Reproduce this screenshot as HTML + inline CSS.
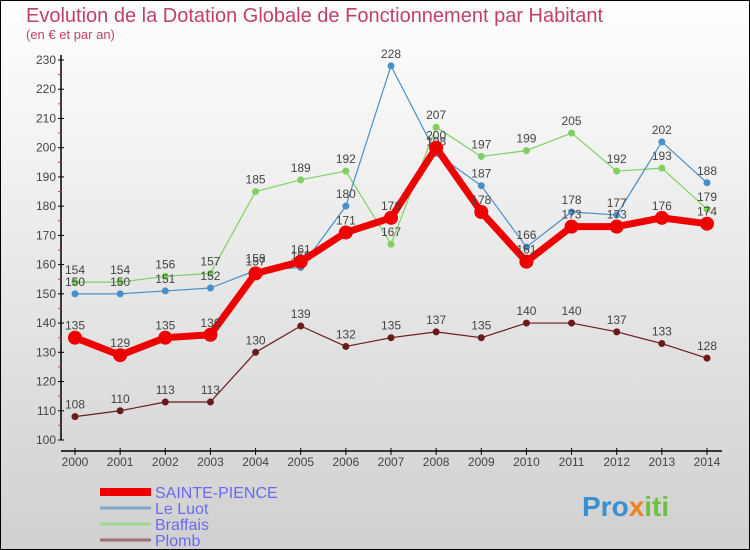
<!DOCTYPE html>
<html><head><meta charset="utf-8"><style>
html,body{margin:0;padding:0}
body{width:750px;height:550px;overflow:hidden;font-family:"Liberation Sans",sans-serif}
svg{display:block}
</style></head><body>
<svg id="chart" width="750" height="550" xmlns="http://www.w3.org/2000/svg">
<defs><linearGradient id="bg" x1="0" y1="0" x2="0" y2="1"><stop offset="0" stop-color="#ffffff"/><stop offset="1" stop-color="#d0d0d0"/></linearGradient></defs>
<rect x="0.5" y="0.5" width="749" height="549" fill="url(#bg)" stroke="#000"/>
<text x="26" y="22" font-size="20" fill="#c0406a">Evolution de la Dotation Globale de Fonctionnement par Habitant</text>
<text x="26" y="39" font-size="13" fill="#c0406a">(en € et par an)</text>
<g id="axes"></g>
<g id="series"></g>
<g id="legend"></g>
<text x="582" y="516" font-size="28" font-weight="bold" fill="#3a8fd0">Pro<tspan fill="#f08020">x</tspan><tspan fill="#70c040">iti</tspan></text>
</svg>
<script>
const years=["2000","2001","2002","2003","2004","2005","2006","2007","2008","2009","2010","2011","2012","2013","2014"];
const yTicks=[100,110,120,130,140,150,160,170,180,190,200,210,220,230];
const sainte=[135,129,135,136,157,161,171,176,200,178,161,173,173,176,174];
const luot=[150,150,151,152,158,159,180,228,198,187,166,178,177,202,188];
const braffais=[154,154,156,157,185,189,192,167,207,197,199,205,192,193,179];
const plomb=[108,110,113,113,130,139,132,135,137,135,140,140,137,133,128];
const NS="http://www.w3.org/2000/svg";
const X=i=>75+i*(707-75)/(years.length-1);
const Y=v=>440-(v-100)*(380/130);
function mk(t,a,p){const e=document.createElementNS(NS,t);for(const k in a)e.setAttribute(k,a[k]);p.appendChild(e);return e;}
const ax=document.getElementById('axes');
const yl=mk('line',{x1:61,y1:55,x2:61,y2:440,stroke:'#000','stroke-width':1.5},ax);


const xl=mk('line',{x1:61,y1:451,x2:722,y2:451,stroke:'#000','stroke-width':1.5},ax);


yTicks.forEach(v=>{
 mk('line',{x1:58,y1:Y(v),x2:64,y2:Y(v),stroke:'#000'},ax);
 mk('line',{x1:58,y1:Y(v+5),x2:61,y2:Y(v+5),stroke:'#e03030'},ax).setAttribute('opacity',v<230?1:0);
 const t=mk('text',{x:56,y:Y(v)+4,'font-size':12,fill:'#444','text-anchor':'end'},ax);t.textContent=v;
 
 
});
years.forEach((y,i)=>{
 mk('line',{x1:X(i),y1:448,x2:X(i),y2:455,stroke:'#000'},ax);
 const t=mk('text',{x:X(i),y:466,'font-size':12,fill:'#444','text-anchor':'middle'},ax);t.textContent=y;
 
 
});
const sg=document.getElementById('series');
function draw(data,color,w,r,name,lab){
 const g=mk('g',{},sg);
 
 
 mk('polyline',{points:data.map((v,i)=>X(i)+','+Y(v)).join(' '),fill:'none',stroke:color,'stroke-width':w,'stroke-linejoin':'round'},g);
 data.forEach((v,i)=>{
  const c=mk('circle',{cx:X(i),cy:Y(v),r:r,fill:color},g);
  
  
  const t=mk('text',{x:X(i),y:Y(v)-8,'font-size':12,fill:'#444','text-anchor':'middle'},g);t.textContent=v;
 });
}
draw(plomb,'#6b1a1a',1.2,3.5,'series-plomb');
draw(braffais,'#80d060',1.2,3.5,'series-braffais');
draw(luot,'#4a90c8',1.2,3.5,'series-le-luot');
draw(sainte,'#ee0000',7,7,'series-sainte-pience');
const lg=document.getElementById('legend');
const items=[["SAINTE-PIENCE","#ee0000",8],["Le Luot","#80a8c8",3],["Braffais","#a0d890",3],["Plomb","#a07070",3]];
items.forEach((it,k)=>{
 const y=492+k*16;
 const g=mk('g',{},lg);
 
 
 mk('line',{x1:100,y1:y,x2:151,y2:y,stroke:it[1],'stroke-width':it[2]},g);
 const t=mk('text',{x:155,y:y+6,'font-size':16,fill:'#6a6af0'},g);t.textContent=it[0];
});
</script>
</body></html>
